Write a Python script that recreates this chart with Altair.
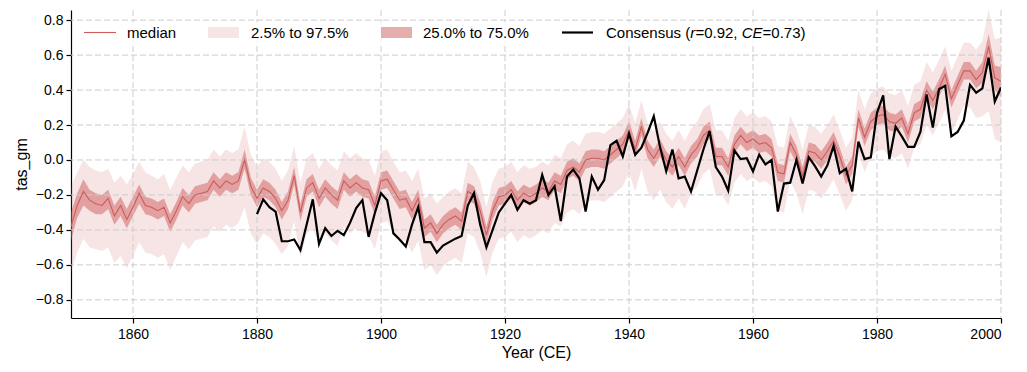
import altair as alt
import pandas as pd

years = list(range(1850, 2001))

q50 = [
    -0.38, -0.26, -0.18, -0.23, -0.25, -0.26, -0.22, -0.32, -0.26, -0.34,
    -0.27, -0.19, -0.26, -0.27, -0.29, -0.27, -0.36, -0.29, -0.21, -0.25,
    -0.20, -0.19, -0.18, -0.12, -0.16, -0.12, -0.14, -0.12, 0.00, -0.15,
    -0.22, -0.16, -0.18, -0.22, -0.29, -0.23, -0.09, -0.30, -0.16, -0.13,
    -0.22, -0.16, -0.20, -0.23, -0.12, -0.16, -0.13, -0.16, -0.17, -0.26,
    -0.12, -0.11, -0.17, -0.23, -0.22, -0.29, -0.22, -0.39, -0.36, -0.42,
    -0.37, -0.34, -0.32, -0.35, -0.18, -0.20, -0.29, -0.43, -0.29, -0.21,
    -0.20, -0.17, -0.23, -0.19, -0.21, -0.19, -0.16, -0.18, -0.12, -0.14,
    -0.06, -0.04, -0.07, 0.00, 0.01, 0.01, 0.00, 0.03, 0.06, 0.09,
    0.17, 0.06, 0.19, 0.06, 0.01, 0.07, 0.00, -0.04, 0.02, -0.04,
    0.03, 0.07, 0.14, 0.17, 0.02, 0.02, -0.04, 0.09, 0.14, 0.10,
    0.12, 0.09, 0.10, 0.07, -0.07, -0.08, 0.10, 0.03, -0.09, 0.05,
    0.04, 0.00, 0.05, 0.11, 0.02, -0.09, -0.03, 0.24, 0.13, 0.22,
    0.25, 0.26, 0.22, 0.21, 0.24, 0.15, 0.27, 0.29, 0.40, 0.34,
    0.41, 0.49, 0.35, 0.43, 0.51, 0.51, 0.46, 0.50, 0.65, 0.47,
    0.45,
]

q25 = [
    -0.46, -0.33, -0.26, -0.29, -0.31, -0.31, -0.28, -0.37, -0.32, -0.39,
    -0.32, -0.25, -0.31, -0.32, -0.34, -0.32, -0.41, -0.34, -0.26, -0.30,
    -0.25, -0.24, -0.23, -0.17, -0.21, -0.17, -0.19, -0.17, -0.05, -0.20,
    -0.27, -0.21, -0.23, -0.27, -0.34, -0.28, -0.14, -0.35, -0.21, -0.18,
    -0.27, -0.21, -0.25, -0.28, -0.17, -0.21, -0.18, -0.21, -0.22, -0.31,
    -0.17, -0.16, -0.22, -0.28, -0.27, -0.34, -0.27, -0.44, -0.41, -0.47,
    -0.42, -0.39, -0.37, -0.40, -0.23, -0.25, -0.34, -0.48, -0.34, -0.26,
    -0.25, -0.22, -0.28, -0.24, -0.26, -0.24, -0.21, -0.23, -0.17, -0.19,
    -0.11, -0.09, -0.12, -0.05, -0.04, -0.04, -0.05, -0.02, 0.01, 0.04,
    0.12, 0.01, 0.14, 0.01, -0.04, 0.02, -0.05, -0.09, -0.03, -0.09,
    -0.02, 0.02, 0.09, 0.12, -0.03, -0.03, -0.09, 0.04, 0.09, 0.05,
    0.07, 0.04, 0.05, 0.02, -0.12, -0.13, 0.05, -0.02, -0.14, 0.00,
    -0.01, -0.05, 0.00, 0.06, -0.03, -0.14, -0.08, 0.19, 0.08, 0.17,
    0.20, 0.21, 0.17, 0.16, 0.19, 0.10, 0.22, 0.24, 0.35, 0.29,
    0.36, 0.44, 0.30, 0.38, 0.46, 0.46, 0.41, 0.44, 0.58, 0.40,
    0.36,
]

q75 = [
    -0.30, -0.19, -0.11, -0.17, -0.19, -0.20, -0.17, -0.26, -0.21, -0.28,
    -0.21, -0.14, -0.21, -0.22, -0.24, -0.22, -0.31, -0.24, -0.16, -0.20,
    -0.15, -0.14, -0.13, -0.07, -0.11, -0.07, -0.09, -0.07, 0.06, -0.10,
    -0.17, -0.11, -0.13, -0.17, -0.24, -0.18, -0.04, -0.25, -0.11, -0.08,
    -0.17, -0.11, -0.15, -0.18, -0.07, -0.11, -0.08, -0.11, -0.12, -0.21,
    -0.07, -0.06, -0.12, -0.18, -0.17, -0.24, -0.17, -0.34, -0.31, -0.37,
    -0.32, -0.29, -0.27, -0.30, -0.13, -0.15, -0.24, -0.38, -0.24, -0.16,
    -0.15, -0.12, -0.18, -0.14, -0.16, -0.14, -0.11, -0.13, -0.07, -0.09,
    -0.01, 0.01, -0.02, 0.05, 0.06, 0.06, 0.05, 0.08, 0.11, 0.14,
    0.22, 0.11, 0.24, 0.11, 0.06, 0.12, 0.05, 0.01, 0.07, 0.01,
    0.08, 0.12, 0.19, 0.22, 0.07, 0.07, 0.01, 0.14, 0.19, 0.15,
    0.17, 0.14, 0.15, 0.12, -0.02, -0.03, 0.15, 0.08, -0.04, 0.10,
    0.09, 0.05, 0.10, 0.16, 0.07, -0.04, 0.02, 0.29, 0.18, 0.27,
    0.30, 0.31, 0.27, 0.26, 0.29, 0.20, 0.32, 0.34, 0.45, 0.39,
    0.46, 0.54, 0.40, 0.48, 0.56, 0.56, 0.51, 0.56, 0.72, 0.54,
    0.53,
]

q025 = [
    -0.64, -0.53, -0.45, -0.50, -0.51, -0.52, -0.50, -0.59, -0.55, -0.62,
    -0.55, -0.47, -0.53, -0.54, -0.56, -0.54, -0.63, -0.55, -0.47, -0.51,
    -0.46, -0.45, -0.44, -0.38, -0.41, -0.37, -0.39, -0.36, -0.27, -0.42,
    -0.48, -0.42, -0.44, -0.48, -0.54, -0.49, -0.35, -0.56, -0.42, -0.39,
    -0.48, -0.42, -0.46, -0.49, -0.38, -0.42, -0.39, -0.41, -0.43, -0.51,
    -0.36, -0.35, -0.41, -0.47, -0.46, -0.53, -0.46, -0.63, -0.60, -0.66,
    -0.61, -0.58, -0.56, -0.59, -0.42, -0.44, -0.53, -0.67, -0.53, -0.45,
    -0.44, -0.41, -0.47, -0.43, -0.45, -0.43, -0.40, -0.42, -0.36, -0.38,
    -0.30, -0.28, -0.31, -0.24, -0.23, -0.23, -0.24, -0.21, -0.18, -0.15,
    -0.07, -0.18, -0.05, -0.18, -0.23, -0.17, -0.24, -0.28, -0.22, -0.28,
    -0.19, -0.15, -0.08, -0.05, -0.20, -0.20, -0.26, -0.13, -0.08, -0.12,
    -0.10, -0.13, -0.12, -0.15, -0.29, -0.30, -0.12, -0.19, -0.31, -0.17,
    -0.18, -0.22, -0.17, -0.11, -0.20, -0.29, -0.23, 0.04, -0.07, 0.02,
    0.05, 0.06, 0.02, 0.01, 0.04, -0.05, 0.07, 0.09, 0.20, 0.14,
    0.21, 0.29, 0.15, 0.23, 0.31, 0.30, 0.24, 0.25, 0.28, 0.12,
    0.10,
]

q975 = [
    -0.15, -0.07, 0.00, -0.04, -0.06, -0.07, -0.05, -0.13, -0.09, -0.14,
    -0.08, -0.01, -0.07, -0.09, -0.11, -0.08, -0.17, -0.10, -0.03, -0.07,
    -0.02, -0.01, 0.00, 0.06, 0.02, 0.06, 0.04, 0.06, 0.19, 0.03,
    -0.04, 0.01, -0.01, -0.05, -0.12, -0.06, 0.08, -0.13, 0.01, 0.04,
    -0.05, 0.01, -0.03, -0.06, 0.05, 0.01, 0.04, 0.01, 0.00, -0.09,
    0.05, 0.06, -0.01, -0.07, -0.06, -0.12, -0.05, -0.22, -0.19, -0.25,
    -0.21, -0.18, -0.16, -0.19, -0.01, -0.04, -0.12, -0.27, -0.12, -0.05,
    -0.04, -0.01, -0.07, -0.03, -0.05, -0.04, -0.01, -0.03, 0.03, 0.01,
    0.09, 0.11, 0.08, 0.15, 0.16, 0.16, 0.15, 0.18, 0.21, 0.24,
    0.32, 0.21, 0.34, 0.21, 0.16, 0.22, 0.15, 0.11, 0.17, 0.11,
    0.18, 0.22, 0.29, 0.32, 0.17, 0.17, 0.11, 0.24, 0.29, 0.25,
    0.27, 0.24, 0.25, 0.22, 0.08, 0.07, 0.25, 0.18, 0.06, 0.20,
    0.19, 0.15, 0.20, 0.26, 0.17, 0.07, 0.13, 0.40, 0.29, 0.38,
    0.41, 0.42, 0.38, 0.37, 0.40, 0.31, 0.43, 0.45, 0.56, 0.50,
    0.57, 0.65, 0.51, 0.59, 0.67, 0.67, 0.63, 0.68, 0.86, 0.69,
    0.70,
]

cons_years = list(range(1880, 2001))
consensus = [
    -0.31, -0.225, -0.27, -0.295, -0.465, -0.465, -0.455, -0.515, -0.37, -0.225,
    -0.48, -0.39, -0.435, -0.405, -0.43, -0.36, -0.275, -0.23, -0.44, -0.305,
    -0.19, -0.23, -0.42, -0.455, -0.495, -0.37, -0.27, -0.47, -0.47, -0.53,
    -0.49, -0.47, -0.45, -0.435, -0.26, -0.19, -0.37, -0.50, -0.40, -0.30,
    -0.25, -0.20, -0.285, -0.23, -0.25, -0.23, -0.085, -0.20, -0.15, -0.35,
    -0.095, -0.055, -0.105, -0.295, -0.095, -0.17, -0.115, 0.085, 0.11, 0.02,
    0.15, 0.03, 0.07, 0.155, 0.25, 0.075, -0.065, 0.06, -0.105, -0.095,
    -0.18, -0.06, 0.06, 0.165, -0.04, -0.095, -0.175, 0.055, 0.005, 0.01,
    -0.065, 0.03, -0.025, 0.00, -0.295, -0.135, -0.13, 0.00, -0.135, 0.015,
    -0.035, -0.095, -0.03, 0.08, -0.075, -0.05, -0.18, 0.105, 0.005, 0.015,
    0.27, 0.37, 0.005, 0.19, 0.135, 0.075, 0.075, 0.16, 0.375, 0.185,
    0.405, 0.425, 0.135, 0.16, 0.225, 0.43, 0.385, 0.41, 0.585, 0.335,
    0.415,
]

x_ticks = [1860, 1880, 1900, 1920, 1940, 1960, 1980, 2000]
y_ticks = [-0.8, -0.6, -0.4, -0.2, 0.0, 0.2, 0.4, 0.6, 0.8]

band = pd.DataFrame({"year": years, "q025": q025, "q25": q25, "q50": q50,
                     "q75": q75, "q975": q975})
cons = pd.DataFrame({"year": cons_years, "value": consensus})
xgrid = pd.DataFrame({"t": x_ticks})
ygrid = pd.DataFrame({"t": y_ticks})

FONT = "Liberation Sans"
RED = "#cd5c5c"
GRID = "#cccccc"

xs = alt.Scale(domain=[1850, 2000], nice=False, zero=False)
ys = alt.Scale(domain=[-0.904, 0.858], nice=False, zero=False)

x_axis = alt.Axis(values=x_ticks, format="d", title="Year (CE)", grid=False,
                  tickSize=5, labelPadding=4, titlePadding=3)
y_axis = alt.Axis(values=y_ticks, title="tas_gm", grid=False, tickSize=5,
                  labelPadding=3, titlePadding=6,
                  labelExpr="replace(format(datum.value, '.1f'), '-', '\u2212')")


def X(field):
    return alt.X(field, type="quantitative", scale=xs, axis=x_axis)


def Y(field):
    return alt.Y(field, type="quantitative", scale=ys, axis=y_axis)


outer = alt.Chart(band).mark_area(color=RED, opacity=0.16, clip=True).encode(
    x=X("year"), y=Y("q025"), y2="q975")
inner = alt.Chart(band).mark_area(color=RED, opacity=0.5, clip=True).encode(
    x=X("year"), y=Y("q25"), y2="q75")
vgrid = alt.Chart(xgrid).mark_rule(color=GRID, strokeWidth=1, strokeDash=[6, 3]).encode(
    x=X("t"))
hgrid = alt.Chart(ygrid).mark_rule(color=GRID, strokeWidth=1, strokeDash=[6, 3]).encode(
    y=Y("t"))
median = alt.Chart(band).mark_line(color=RED, strokeWidth=1.1, clip=True).encode(
    x=X("year"), y=Y("q50"))
cline = alt.Chart(cons).mark_line(color="black", strokeWidth=2.2, clip=True).encode(
    x=X("year"), y=Y("value"))

one = alt.Data(values=[{"a": 1}])

legend_bg = alt.Chart(one).mark_rect(color="white", opacity=0.8).encode(
    x=alt.value(7), x2=alt.value(745), y=alt.value(12), y2=alt.value(35))
leg_med = alt.Chart(one).mark_rule(color=RED, strokeWidth=1.1).encode(
    x=alt.value(13), x2=alt.value(45), y=alt.value(22.5))
leg_outer = alt.Chart(one).mark_rect(color=RED, opacity=0.16).encode(
    x=alt.value(137), x2=alt.value(168), y=alt.value(17), y2=alt.value(28))
leg_inner = alt.Chart(one).mark_rect(color=RED, opacity=0.5).encode(
    x=alt.value(310), x2=alt.value(341), y=alt.value(17), y2=alt.value(28))
leg_cons = alt.Chart(one).mark_rule(color="black", strokeWidth=2.2).encode(
    x=alt.value(491), x2=alt.value(522), y=alt.value(22.5))


def label(text, x, italic=False):
    kw = dict(font=FONT, fontSize=15, color="black", align="left", baseline="middle")
    if italic:
        kw["fontStyle"] = "italic"
    return alt.Chart(one).mark_text(**kw).encode(
        x=alt.value(x), y=alt.value(22.5), text=alt.value(text))


texts = [
    label("median", 56),
    label("2.5% to 97.5%", 180),
    label("25.0% to 75.0%", 352),
    label("Consensus (", 535),
    label("r", 619.2, True),
    label("=0.92, ", 624.4),
    label("CE", 670.7, True),
    label("=0.73)", 691.6),
]

chart = alt.layer(
    outer, inner, vgrid, hgrid, median, cline,
    legend_bg, leg_med, leg_outer, leg_inner, leg_cons, *texts
).properties(
    width=930, height=308,
    padding={"left": 63, "top": 2, "right": 10, "bottom": 50},
    autosize=alt.AutoSizeParams(type="none"),
).configure_view(stroke=None).configure_axis(
    labelFont=FONT, titleFont=FONT, labelFontSize=14, titleFontSize=16,
    labelColor="black", titleColor="black", titleFontWeight="normal",
    domainColor="black", domainWidth=1.2, tickColor="black", tickWidth=1.2,
)

chart.save("out.html", embed_options={"renderer": "svg", "actions": False})
